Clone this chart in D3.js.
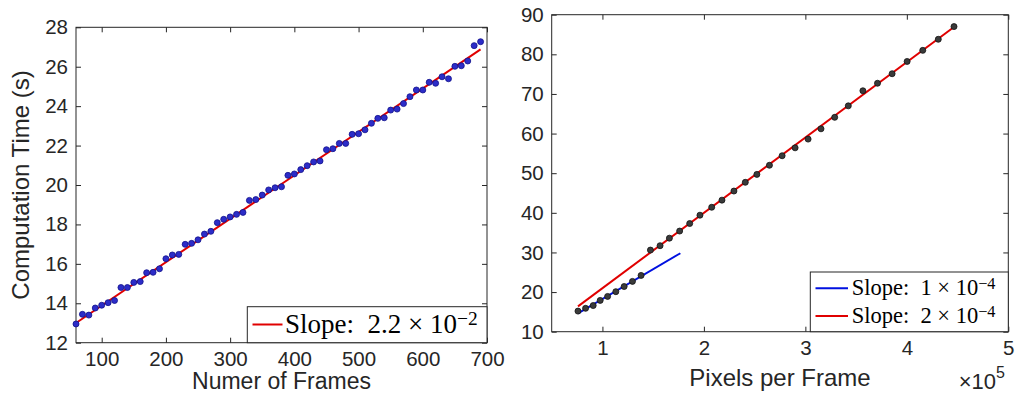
<!DOCTYPE html>
<html>
<head>
<meta charset="utf-8">
<script src="https://cdn.jsdelivr.net/npm/d3@7"></script>
<style>
  body { margin: 0; background: #fff; }
  .tick text { font-family: "Liberation Sans", Arial, sans-serif; fill: #262626; }
  .label { font-family: "Liberation Sans", Arial, sans-serif; fill: #262626; }
  .legend text { font-family: "Liberation Serif", "Times New Roman", serif; fill: #000; }
</style>
</head>
<body>
<script>
// left panel: computation time vs number of frames
const frames = d3.range(60, 700, 10)
const frameTimes = [
  12.95, 13.44, 13.4, 13.76, 13.9, 14.03, 14.14, 14.8, 14.8, 15.06,
  15.1, 15.55, 15.57, 15.75, 16.26, 16.45, 16.48, 16.99, 17.04, 17.22,
  17.51, 17.65, 18.09, 18.26, 18.38, 18.51, 18.61, 19.22, 19.26, 19.49,
  19.75, 19.86, 19.91, 20.49, 20.56, 20.78, 20.98, 21.17, 21.22, 21.79,
  21.84, 22.11, 22.11, 22.57, 22.6, 22.8, 23.13, 23.38, 23.41, 23.8,
  23.85, 24.13, 24.48, 24.82, 24.82, 25.21, 25.16, 25.49, 25.39, 26.02,
  26.05, 26.29, 27.07, 27.27
]
const frameFit = [[60, 13.0], [690, 26.88]]
const leftXTicks = [100, 200, 300, 400, 500, 600, 700]
const leftYTicks = [12, 14, 16, 18, 20, 22, 24, 26, 28]

// right panel: computation time vs pixels per frame (x in units of 1e5)
const pixels = [
  0.759, 0.834, 0.909, 0.978, 1.051, 1.132, 1.214, 1.296, 1.381, 1.473,
  1.568, 1.66, 1.761, 1.86, 1.961, 2.077, 2.178, 2.296, 2.408, 2.522,
  2.646, 2.771, 2.899, 3.027, 3.154, 3.289, 3.423, 3.567, 3.711, 3.855,
  4.003, 4.157, 4.31, 4.465
]
const pixelTimes = [
  15.2, 15.9, 16.6, 17.9, 18.9, 20.1, 21.4, 22.7, 24.2, 30.6,
  31.7, 33.6, 35.4, 37.3, 39.4, 41.4, 43.2, 45.5, 47.7, 49.7,
  52.0, 54.4, 56.4, 58.6, 61.2, 64.1, 67.0, 70.8, 72.7, 75.1,
  78.2, 81.0, 83.8, 87.0
]
const blueFit = [[0.759, 14.6], [1.768, 29.8]]
const redFit = [[0.759, 16.4], [4.465, 86.9]]
const rightXTicks = [1, 2, 3, 4, 5]
const rightYTicks = [10, 20, 30, 40, 50, 60, 70, 80, 90]

const axisColor = '#262626'

const svg = d3.select('body').append('svg')
  .attr('width', 1016)
  .attr('height', 394)

function drawFrame (x, y, xTicks, yTicks) {
  const [x0, x1] = x.range()
  const [y0, y1] = y.range()
  const g = svg.append('g')
  const tickLen = 5

  g.append('g')
    .attr('transform', 'translate(0,' + y0 + ')')
    .call(d3.axisBottom(x).tickValues(xTicks).tickSize(-tickLen).tickPadding(9).tickFormat(d3.format('d')))
  g.append('g')
    .attr('transform', 'translate(0,' + y1 + ')')
    .call(d3.axisTop(x).tickValues(xTicks).tickSize(-tickLen).tickFormat(''))
  g.append('g')
    .attr('transform', 'translate(' + x0 + ',0)')
    .call(d3.axisLeft(y).tickValues(yTicks).tickSize(-tickLen).tickPadding(8).tickFormat(d3.format('d')))
  g.append('g')
    .attr('transform', 'translate(' + x1 + ',0)')
    .call(d3.axisRight(y).tickValues(yTicks).tickSize(-tickLen).tickFormat(''))

  g.selectAll('.domain').remove()
  g.selectAll('.tick line').attr('stroke', axisColor)
  g.selectAll('.tick text').attr('font-size', 20.5)

  g.append('rect')
    .attr('x', x0).attr('y', y1)
    .attr('width', x1 - x0).attr('height', y0 - y1)
    .attr('fill', 'none').attr('stroke', axisColor).attr('stroke-width', 1)
  return g
}

// LaTeX-like "Slope: m × 10^-e"
function slopeText (text, mant, exp) {
  text.append('tspan').text('Slope:\u2002' + mant + '\u2005\u00d7\u2005' + '10')
  text.append('tspan').attr('dy', '-0.4em').attr('font-size', '0.72em').text('\u2212' + exp)
}

// ---------- left panel ----------
const xL = d3.scaleLinear().domain([60, 700]).range([76, 487])
const yL = d3.scaleLinear().domain([12, 28]).range([342.7, 27.3])
drawFrame(xL, yL, leftXTicks, leftYTicks)

const line = (sx, sy) => d3.line().x(d => sx(d[0])).y(d => sy(d[1]))

svg.append('path')
  .datum(frameFit)
  .attr('d', line(xL, yL))
  .attr('stroke', '#e00000').attr('stroke-width', 2).attr('fill', 'none')

svg.append('g').selectAll('circle')
  .data(frames)
  .enter().append('circle')
  .attr('cx', d => xL(d))
  .attr('cy', (d, i) => yL(frameTimes[i]))
  .attr('r', 3)
  .attr('fill', '#2c2cc8')
  .attr('stroke', '#10108a')
  .attr('stroke-width', 0.8)

svg.append('text').attr('class', 'label')
  .attr('x', (xL.range()[0] + xL.range()[1]) / 2).attr('y', 389)
  .attr('text-anchor', 'middle').attr('font-size', 23)
  .text('Numer of Frames')

svg.append('text').attr('class', 'label')
  .attr('transform', 'translate(29,185) rotate(-90)')
  .attr('text-anchor', 'middle').attr('font-size', 24)
  .text('Computation Time (s)')

const legL = svg.append('g').attr('class', 'legend')
legL.append('rect')
  .attr('x', 247.3).attr('y', 306.7).attr('width', 487 - 247.3).attr('height', 342.7 - 306.7)
  .attr('fill', '#fff').attr('stroke', axisColor)
legL.append('line')
  .attr('x1', 252.5).attr('x2', 282.5).attr('y1', 324.5).attr('y2', 324.5)
  .attr('stroke', '#e00000').attr('stroke-width', 2)
slopeText(legL.append('text').attr('x', 285).attr('y', 332.5).attr('font-size', 27), '2.2', '2')

// ---------- right panel ----------
const xR = d3.scaleLinear().domain([0.5, 5]).range([551.7, 1008.3])
const yR = d3.scaleLinear().domain([10, 90]).range([331.7, 14.7])
drawFrame(xR, yR, rightXTicks, rightYTicks)

svg.append('path')
  .datum(redFit)
  .attr('d', line(xR, yR))
  .attr('stroke', '#e00000').attr('stroke-width', 2).attr('fill', 'none')
svg.append('path')
  .datum(blueFit)
  .attr('d', line(xR, yR))
  .attr('stroke', '#0010e0').attr('stroke-width', 2).attr('fill', 'none')

svg.append('g').selectAll('circle')
  .data(pixels)
  .enter().append('circle')
  .attr('cx', d => xR(d))
  .attr('cy', (d, i) => yR(pixelTimes[i]))
  .attr('r', 3)
  .attr('fill', '#3a3a3a')
  .attr('stroke', '#111')
  .attr('stroke-width', 0.8)

svg.append('text').attr('class', 'label')
  .attr('x', (xR.range()[0] + xR.range()[1]) / 2).attr('y', 386)
  .attr('text-anchor', 'middle').attr('font-size', 24)
  .text('Pixels per Frame')

const expLabel = svg.append('text').attr('class', 'label')
  .attr('x', 1005).attr('y', 389).attr('text-anchor', 'end').attr('font-size', 22)
expLabel.append('tspan').text('\u00d710')
expLabel.append('tspan').attr('dy', -11).attr('font-size', 16).text('5')

const legR = svg.append('g').attr('class', 'legend')
legR.append('rect')
  .attr('x', 810.3).attr('y', 272).attr('width', 1008.3 - 810.3).attr('height', 331.7 - 272)
  .attr('fill', '#fff').attr('stroke', axisColor)
const rightLegend = [['#0010e0', '1', '4'], ['#e00000', '2', '4']]
rightLegend.forEach((d, i) => {
  const yy = 288.3 + i * 27.7
  legR.append('line')
    .attr('x1', 815.5).attr('x2', 848).attr('y1', yy).attr('y2', yy)
    .attr('stroke', d[0]).attr('stroke-width', 2)
  slopeText(legR.append('text').attr('x', 851.7).attr('y', yy + 7).attr('font-size', 22.5), d[1], d[2])
})
</script>
</body>
</html>
